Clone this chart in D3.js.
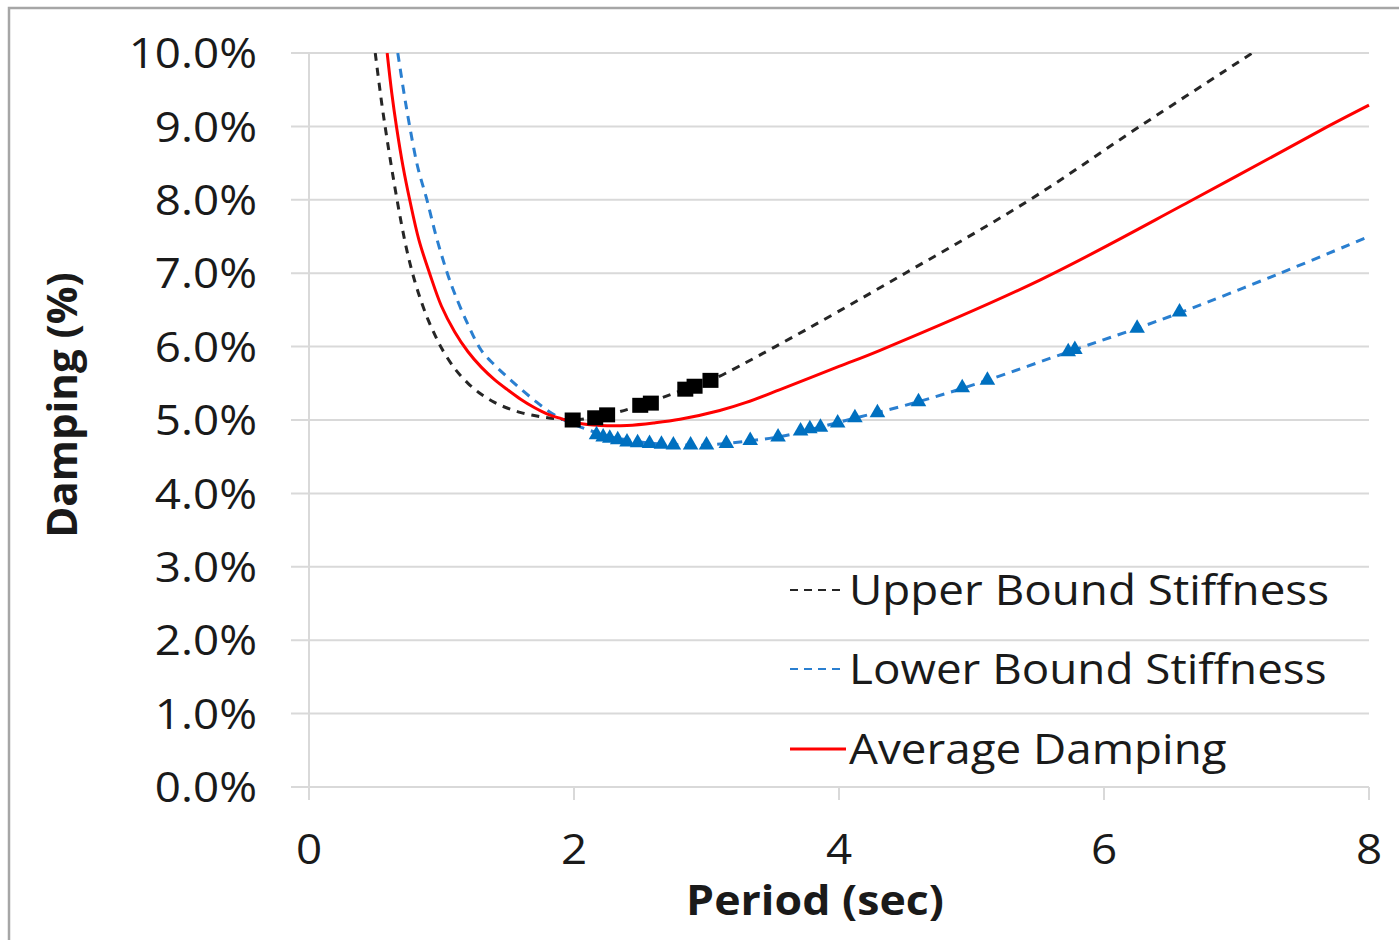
<!DOCTYPE html>
<html><head><meta charset="utf-8">
<script src="https://cdn.jsdelivr.net/npm/d3@7"></script>
<style>
html,body{margin:0;padding:0;background:#fff;}
svg{display:block;font-family:"Open Sans",sans-serif;}
</style></head>
<body><svg id="c" width="1399" height="940"></svg>
<script>
// ---- data ----
const xTicks = [0, 2, 4, 6, 8];
const yTicks = [0, 1, 2, 3, 4, 5, 6, 7, 8, 9, 10];
const seriesNames = ["Upper Bound Stiffness", "Lower Bound Stiffness", "Average Damping"];

const upperX = [0.50, 0.55, 0.60, 0.65, 0.70, 0.75, 0.80, 0.85, 0.90, 0.95, 1.0, 1.1, 1.2, 1.3, 1.4, 1.5, 1.6, 1.7, 1.8, 1.9, 2.0, 2.25, 2.5, 2.84, 3.03, 3.52, 4.5, 5.44, 6.27, 7.12];
const upperY = [10.0, 9.3, 8.7, 8.15, 7.65, 7.22, 6.88, 6.60, 6.36, 6.16, 5.98, 5.70, 5.50, 5.35, 5.24, 5.16, 5.10, 5.06, 5.03, 5.01, 5.0, 5.07, 5.2, 5.42, 5.54, 6.0, 7.0, 8.0, 9.0, 10.0];

const lowerX = [0.67, 0.72, 0.76, 0.82, 0.89, 0.96, 1.04, 1.1, 1.2, 1.3, 1.4, 1.5, 1.6, 1.7, 1.8, 1.9, 2.0, 2.1, 2.2, 2.3, 2.4, 2.6, 2.85, 3.0, 3.3, 3.6, 4.0, 4.6, 5.1, 5.75, 6.25, 6.6, 7.33, 8.0];
const lowerY = [10, 9.42, 9.0, 8.45, 8.0, 7.5, 7.02, 6.72, 6.3, 5.95, 5.75, 5.58, 5.42, 5.27, 5.13, 5.02, 4.94, 4.87, 4.81, 4.76, 4.73, 4.68, 4.66, 4.66, 4.71, 4.79, 4.97, 5.25, 5.53, 5.94, 6.25, 6.48, 7.0, 7.5];

const avgX = [0.59, 0.625, 0.66, 0.71, 0.76, 0.83, 0.91, 1.0, 1.1, 1.2, 1.3, 1.4, 1.5, 1.6, 1.7, 1.8, 1.9, 2.0, 2.1, 2.2, 2.3, 2.4, 2.6, 2.8, 3.1, 3.3, 3.55, 4.0, 4.31, 5.52, 6.67, 7.69, 8.0];
const avgY = [10, 9.45, 9.0, 8.45, 8.0, 7.45, 7.0, 6.55, 6.2, 5.93, 5.72, 5.55, 5.41, 5.28, 5.17, 5.08, 5.02, 4.97, 4.94, 4.925, 4.92, 4.925, 4.96, 5.01, 5.13, 5.24, 5.41, 5.73, 5.95, 6.91, 8.0, 9.0, 9.29];

const upperMarkX = [1.99, 2.16, 2.25, 2.50, 2.58, 2.84, 2.91, 3.03];
const upperMarkY = [5.00, 5.03, 5.07, 5.20, 5.23, 5.42, 5.46, 5.54];

const lowerMarkX = [2.17, 2.22, 2.27, 2.33, 2.40, 2.48, 2.57, 2.66, 2.75, 2.88, 3.0, 3.15, 3.33, 3.54, 3.71, 3.78, 3.86, 3.99, 4.12, 4.29, 4.60, 4.93, 5.12, 5.73, 5.78, 6.25, 6.57];
const lowerMarkY = [4.80, 4.77, 4.75, 4.73, 4.70, 4.69, 4.68, 4.67, 4.66, 4.66, 4.66, 4.68, 4.72, 4.77, 4.85, 4.88, 4.90, 4.96, 5.03, 5.10, 5.25, 5.44, 5.54, 5.93, 5.96, 6.25, 6.47];

// ---- layout ----
const svg = d3.select("#c");
const x = d3.scaleLinear().domain([0, 8]).range([309, 1369]);
const y = d3.scaleLinear().domain([0, 10]).range([787, 53]);
const zip = (a, b) => a.map((v, i) => [v, b[i]]);
const FONT = 42;
const SX = 1.09; // horizontal stretch of the reference text

// outer frame
svg.append("rect").attr("x", 9).attr("y", 8).attr("width", 1420).attr("height", 960)
  .attr("fill", "none").attr("stroke", "#a6a6a6").attr("stroke-width", 2.5);

// gridlines
svg.append("g").selectAll("line").data(yTicks).join("line")
  .attr("x1", 291).attr("x2", x(8)).attr("y1", d => y(d)).attr("y2", d => y(d))
  .attr("stroke", "#d9d9d9").attr("stroke-width", 2);

// vertical axis line and x ticks
svg.append("line").attr("x1", x(0)).attr("x2", x(0)).attr("y1", y(10)).attr("y2", 800)
  .attr("stroke", "#d9d9d9").attr("stroke-width", 2);
svg.append("g").selectAll("line").data(xTicks.slice(1)).join("line")
  .attr("x1", d => x(d)).attr("x2", d => x(d)).attr("y1", y(0)).attr("y2", 800)
  .attr("stroke", "#d9d9d9").attr("stroke-width", 2);

// y tick labels
svg.append("g").selectAll("text").data(yTicks).join("text")
  .attr("transform", d => `translate(257,${y(d)}) scale(${SX},1)`).attr("dy", "0.36em")
  .attr("text-anchor", "end").attr("font-size", FONT).attr("fill", "#1a1a1a")
  .text(d => d.toFixed(1) + "%");

// x tick labels
svg.append("g").selectAll("text").data(xTicks).join("text")
  .attr("transform", d => `translate(${x(d)},849) scale(${SX},1)`).attr("dy", "0.36em")
  .attr("text-anchor", "middle").attr("font-size", FONT).attr("fill", "#1a1a1a")
  .text(d => d);

// axis titles
svg.append("text").attr("transform", `translate(815,900) scale(${SX},1)`).attr("dy", "0.36em")
  .attr("text-anchor", "middle").attr("font-size", 41).attr("font-weight", "bold").attr("fill", "#1a1a1a")
  .text("Period (sec)");
svg.append("text").attr("transform", "translate(62,405) rotate(-90)").attr("dy", "0.36em")
  .attr("text-anchor", "middle").attr("font-size", FONT).attr("font-weight", "bold").attr("fill", "#1a1a1a")
  .text("Damping (%)");

// clip
svg.append("clipPath").attr("id", "clip").append("rect")
  .attr("x", x(0)).attr("y", y(10)).attr("width", x(8) - x(0) + 2).attr("height", y(0) - y(10));

const line = d3.line().x(d => x(d[0])).y(d => y(d[1])).curve(d3.curveCatmullRom.alpha(0.5));
const plot = svg.append("g").attr("clip-path", "url(#clip)");

plot.append("path").attr("d", line(zip(upperX, upperY)))
  .attr("fill", "none").attr("stroke", "#262626").attr("stroke-width", 3).attr("stroke-dasharray", "8,7");
plot.append("path").attr("d", line(zip(lowerX, lowerY)))
  .attr("fill", "none").attr("stroke", "#2a7fd0").attr("stroke-width", 3).attr("stroke-dasharray", "9,7");
plot.append("path").attr("d", line(zip(avgX, avgY)))
  .attr("fill", "none").attr("stroke", "#ff0000").attr("stroke-width", 3);

// markers
plot.append("g").selectAll("rect").data(zip(upperMarkX, upperMarkY)).join("rect")
  .attr("x", d => x(d[0]) - 8).attr("y", d => y(d[1]) - 7.5).attr("width", 16).attr("height", 15)
  .attr("fill", "#000");
const tri = d3.symbol().type(d3.symbolTriangle).size(105);
plot.append("g").selectAll("path").data(zip(lowerMarkX, lowerMarkY)).join("path")
  .attr("transform", d => `translate(${x(d[0])},${y(d[1])})`)
  .attr("d", tri).attr("fill", "#0070c0");

// legend
const legY = [590, 669, 749];
const leg = svg.append("g");
const styles = [
  {stroke: "#262626", dash: "8,6", w: 2},
  {stroke: "#2a7fd0", dash: "8,6", w: 2},
  {stroke: "#ff0000", dash: null, w: 3}
];
seriesNames.forEach((name, i) => {
  leg.append("line").attr("x1", 790).attr("x2", 846).attr("y1", legY[i]).attr("y2", legY[i])
    .attr("stroke", styles[i].stroke).attr("stroke-width", styles[i].w)
    .attr("stroke-dasharray", styles[i].dash);
  leg.append("text").attr("transform", `translate(849,${legY[i]}) scale(${SX},1)`).attr("dy", "0.36em")
    .attr("font-size", FONT).attr("fill", "#1a1a1a").text(name);
});
</script></body></html>
